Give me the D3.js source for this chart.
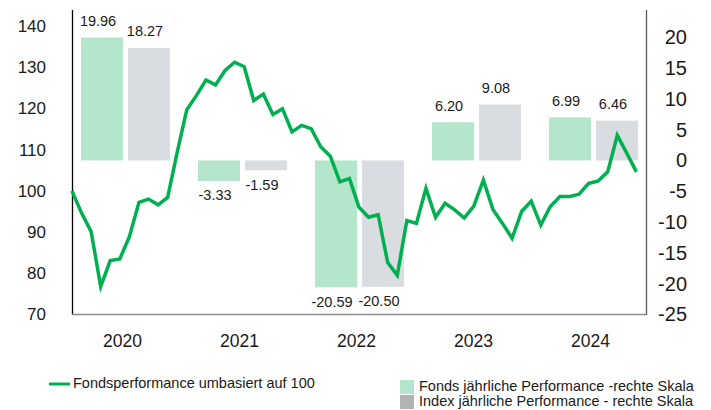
<!DOCTYPE html>
<html>
<head>
<meta charset="utf-8">
<script src="https://cdn.jsdelivr.net/npm/d3@7"></script>
<style>
  body { margin: 0; background: #fff; }
  svg { display: block; font-family: "Liberation Sans", Arial, sans-serif; }
</style>
</head>
<body>
<svg id="canvas" width="711" height="410"></svg>
<script>
// ************************************************************************************** //
// Data

var years = ['2020', '2021', '2022', '2023', '2024'];
var fundYearly = [19.96, -3.33, -20.59, 6.20, 6.99];
var indexYearly = [18.27, -1.59, -20.50, 9.08, 6.46];

// monthly, Dec 2019 = 100 ... Nov 2024
var fundIndexed = [
  100, 94.6, 90.1, 76.8, 83.1, 83.5, 88.9, 97.2, 98.0, 96.6, 98.4, 109.4,
  119.7, 123.1, 126.9, 125.7, 129.2, 131.2, 130.1, 121.9, 123.5, 118.5, 119.9, 114.3,
  115.9, 115.1, 110.7, 108.4, 102.2, 103.0, 96.0, 93.6, 94.2, 82.6, 79.5, 92.8,
  92.1, 100.6, 93.6, 97.0, 95.4, 93.4, 96.3, 102.6, 95.5, 92.1, 88.5, 95.0,
  97.5, 91.7, 96.2, 98.6, 98.6, 99.2, 101.8, 102.4, 104.6, 113.5, 109.1, 104.6
];

var leftTicks = [70, 80, 90, 100, 110, 120, 130, 140];
var rightTicks = [-25, -20, -15, -10, -5, 0, 5, 10, 15, 20];

var legendLine = 'Fondsperformance umbasiert auf 100';
var legendFund = 'Fonds jährliche Performance -rechte Skala';
var legendIndex = 'Index jährliche Performance - rechte Skala';

// ************************************************************************************** //
// Scales

var plotLeft = 72, plotRight = 646, plotTop = 9.5, plotBottom = 314.5;
var svg = d3.select('#canvas');

var yLeft = d3.scaleLinear().domain([70, 144]).range([plotBottom, plotTop]);
var yRight = d3.scaleLinear().domain([-25, 24.5]).range([plotBottom, plotTop]);
var xLine = d3.scaleLinear().domain([0, 60]).range([plotLeft, plotRight]);

var xYear = d3.scaleBand().domain(years).range([67, 652]).paddingInner(0.24).paddingOuter(0.12);
var xSeries = d3.scaleBand().domain(['fund', 'index']).range([0, xYear.bandwidth()]).paddingInner(0.106);

var colors = { fund: '#b3e6cb', index: '#d9dce0', line: '#00b050', indexKey: '#b3b3b3' };

// ************************************************************************************** //
// Bars

var barData = [];
years.forEach(function(y, i) {
  barData.push({ year: y, key: 'fund', value: fundYearly[i] });
  barData.push({ year: y, key: 'index', value: indexYearly[i] });
});

var bars = svg.append('g');
bars.selectAll('rect').data(barData).enter().append('rect')
  .attr('x', d => xYear(d.year) + xSeries(d.key))
  .attr('width', xSeries.bandwidth())
  .attr('y', d => yRight(Math.max(0, d.value)))
  .attr('height', d => Math.abs(yRight(d.value) - yRight(0)))
  .attr('fill', d => colors[d.key]);

bars.selectAll('text').data(barData).enter().append('text')
  .attr('x', d => xYear(d.year) + xSeries(d.key) + xSeries.bandwidth() / 2 - 4)
  .attr('y', d => d.value >= 0 ? yRight(d.value) - 15.5 : yRight(d.value) + 15.5)
  .attr('text-anchor', 'middle')
  .attr('dominant-baseline', 'middle')
  .attr('font-size', 14.5)
  .attr('fill', '#1a1a1a')
  .text(d => d.value.toFixed(2));

// ************************************************************************************** //
// Axes

var leftAxis = svg.append('g').attr('transform', 'translate(' + plotLeft + ',0)')
  .call(d3.axisLeft(yLeft).tickValues(leftTicks).tickSize(0).tickSizeOuter(0).tickPadding(26));
leftAxis.select('.domain').attr('stroke', '#000').attr('stroke-width', 1.3);
leftAxis.selectAll('text').attr('font-size', 17).attr('fill', '#1a1a1a').attr('font-family', null);

var rightAxis = svg.append('g').attr('transform', 'translate(' + plotRight + ',0)')
  .call(d3.axisRight(yRight).tickValues(rightTicks).tickSize(0).tickSizeOuter(0).tickFormat(d => String(d)));
rightAxis.select('.domain').attr('stroke', '#595959').attr('stroke-width', 1.3);
rightAxis.selectAll('text').attr('x', 41).attr('text-anchor', 'end')
  .attr('font-size', 20).attr('fill', '#1a1a1a').attr('font-family', null);

svg.append('line')
  .attr('x1', plotLeft).attr('x2', plotRight)
  .attr('y1', plotBottom).attr('y2', plotBottom)
  .attr('stroke', '#8c8c8c').attr('stroke-width', 1.5);

var bottomAxis = svg.append('g').attr('transform', 'translate(0,' + plotBottom + ')')
  .call(d3.axisBottom(xYear).tickSize(0).tickPadding(20));
bottomAxis.select('.domain').remove();
bottomAxis.selectAll('text').attr('font-size', 17.5).attr('fill', '#1a1a1a').attr('font-family', null)
  .attr('dx', -3);

// ************************************************************************************** //
// Line

var lineGen = d3.line().x((d, i) => xLine(i)).y(d => yLeft(d));
svg.append('path')
  .attr('d', lineGen(fundIndexed))
  .attr('fill', 'none')
  .attr('stroke', colors.line)
  .attr('stroke-width', 3.5)
  .attr('stroke-linejoin', 'miter');

// ************************************************************************************** //
// Legend

var legend = svg.append('g').attr('font-size', 14.5).attr('fill', '#1a1a1a');
legend.append('line').attr('x1', 49).attr('x2', 70).attr('y1', 384).attr('y2', 384)
  .attr('stroke', colors.line).attr('stroke-width', 3);
legend.append('text').attr('x', 73).attr('y', 384.5).attr('dominant-baseline', 'middle').text(legendLine);

legend.append('rect').attr('x', 400).attr('y', 380).attr('width', 14).attr('height', 14).attr('fill', colors.fund);
legend.append('text').attr('x', 419).attr('y', 387).attr('dominant-baseline', 'middle').text(legendFund);
legend.append('rect').attr('x', 400).attr('y', 395).attr('width', 14).attr('height', 14).attr('fill', colors.indexKey);
legend.append('text').attr('x', 419).attr('y', 402).attr('dominant-baseline', 'middle').text(legendIndex);
</script>
</body>
</html>
